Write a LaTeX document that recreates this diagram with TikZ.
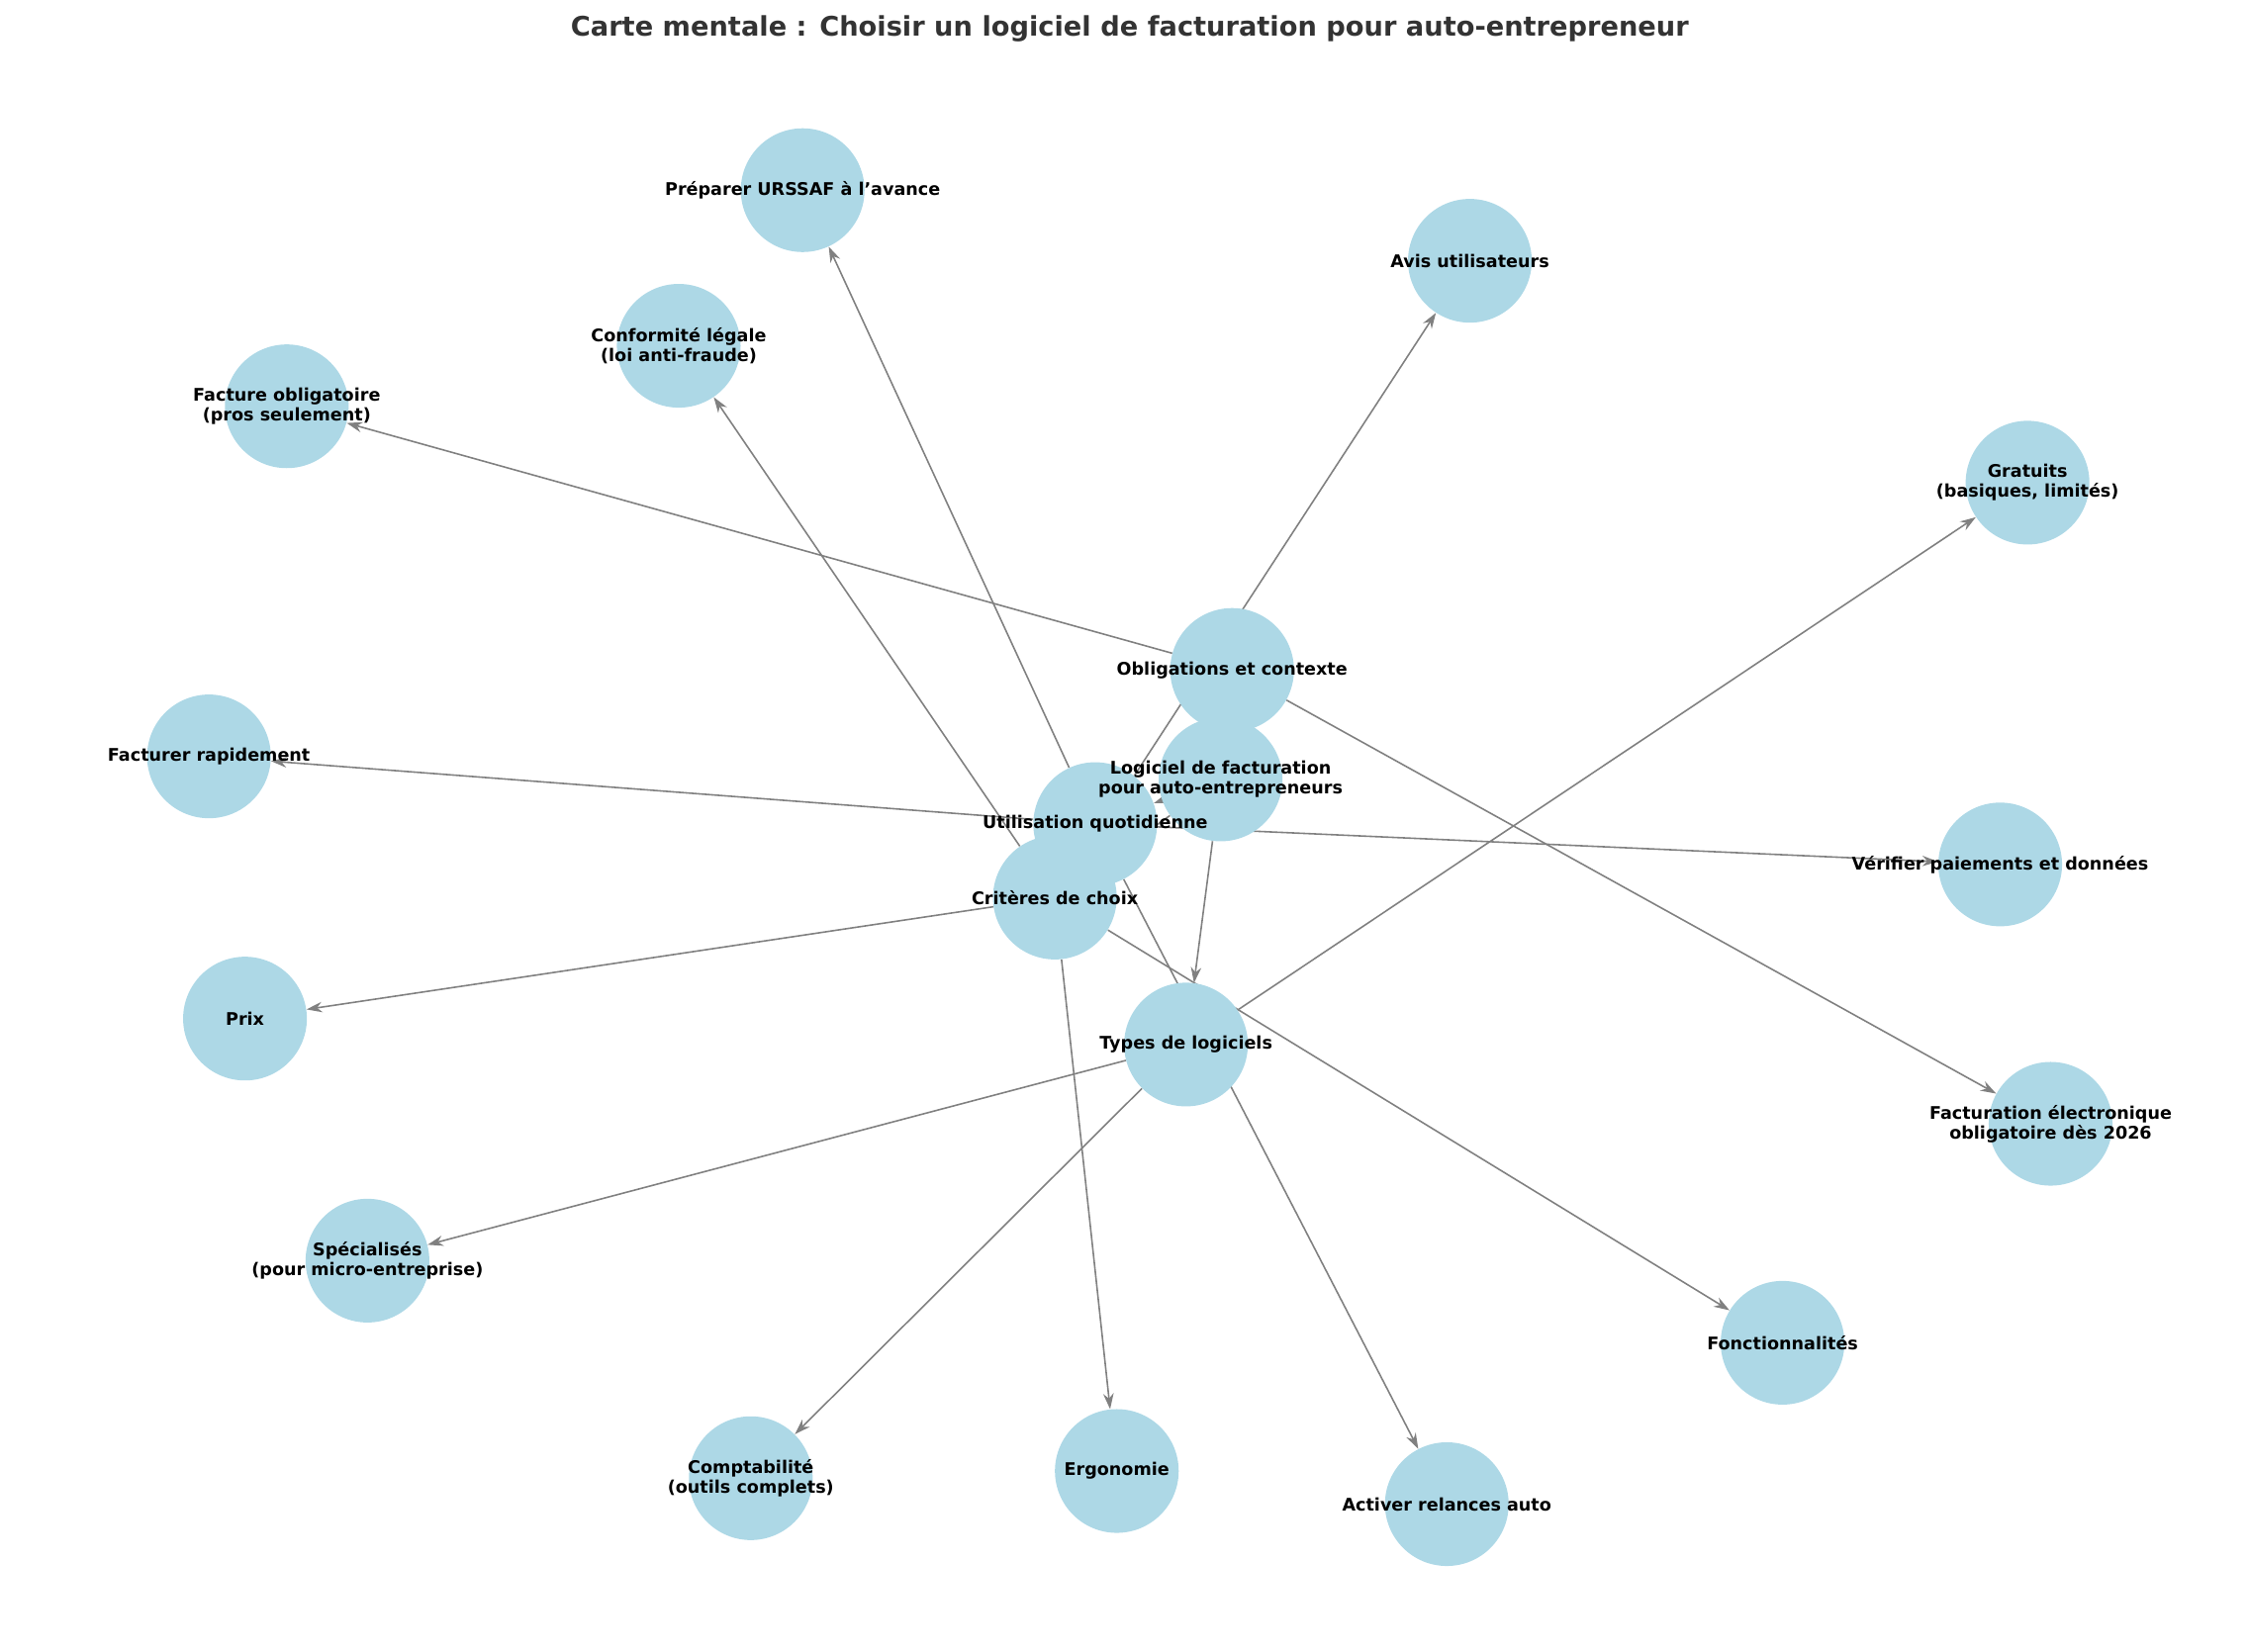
\documentclass[tikz,border=0pt]{standalone}
\usepackage{fontspec}
\setmainfont{DejaVu Sans}
\usetikzlibrary{arrows.meta}
\pgfdeclarelayer{background}
\pgfdeclarelayer{foreground}
\pgfsetlayers{background,main,foreground}
\definecolor{nodeblue}{HTML}{ADD8E6}
\definecolor{titlegray}{HTML}{333333}

\begin{document}
\begin{tikzpicture}[x=0.02912cm, y=-0.02912cm,
  bubble/.style={circle, fill=nodeblue, minimum size=2.5cm, inner sep=0pt},
  lbl/.style={font=\bfseries\fontsize{10}{11.5}\selectfont, align=center},
  link/.style={draw=gray, line width=0.9pt, -{Stealth[length=9pt, width=6pt]}}]
  \useasboundingbox (0,0) rectangle (1560,1146);
  \node[font=\bfseries\fontsize{15.5}{18}\selectfont, text=titlegray] (title) at (784,20)
    {Carte mentale : Choisir un logiciel de facturation pour auto-entrepreneur};

  % circles
  \foreach \id/\x/\y in {root/847/541, oblig/855/465, usage/760/572, crit/732/623,
      types/823/725, urssaf/557/132, avis/1020/181, conf/471/240, factob/199/282,
      gratuits/1407/335, rapide/145/525, verif/1388/600, prix/170/707,
      efact/1423/780, spec/255/875, fonct/1237/932, compta/521/1026,
      ergo/775/1021, relance/1004/1044}
    \node[bubble] (\id) at (\x,\y) {};

  % labels
  \begin{pgfonlayer}{foreground}
  \node[lbl] (t-root) at (root) {Logiciel de facturation\\pour auto-entrepreneurs};
  \node[lbl] (t-oblig) at (oblig) {Obligations et contexte};
  \node[lbl] (t-usage) at (usage) {Utilisation quotidienne};
  \node[lbl] (t-crit) at (crit) {Critères de choix};
  \node[lbl] (t-types) at (types) {Types de logiciels};
  \node[lbl] (t-urssaf) at (urssaf) {Préparer URSSAF à l'avance};
  \node[lbl] (t-avis) at (avis) {Avis utilisateurs};
  \node[lbl] (t-conf) at (conf) {Conformité légale\\(loi anti-fraude)};
  \node[lbl] (t-factob) at (factob) {Facture obligatoire\\(pros seulement)};
  \node[lbl] (t-gratuits) at (gratuits) {Gratuits\\(basiques, limités)};
  \node[lbl] (t-rapide) at (rapide) {Facturer rapidement};
  \node[lbl] (t-verif) at (verif) {Vérifier paiements et données};
  \node[lbl] (t-prix) at (prix) {Prix};
  \node[lbl] (t-efact) at (efact) {Facturation électronique\\obligatoire dès 2026};
  \node[lbl] (t-spec) at (spec) {Spécialisés\\(pour micro-entreprise)};
  \node[lbl] (t-fonct) at (fonct) {Fonctionnalités};
  \node[lbl] (t-compta) at (compta) {Comptabilité\\(outils complets)};
  \node[lbl] (t-ergo) at (ergo) {Ergonomie};
  \node[lbl] (t-relance) at (relance) {Activer relances auto};
  \end{pgfonlayer}

  % edges
  \begin{pgfonlayer}{background}
  \foreach \a/\b in {root/oblig, root/usage, root/crit, root/types,
      oblig/factob, oblig/efact, usage/rapide, usage/verif, usage/urssaf,
      usage/relance, crit/prix, crit/fonct, crit/ergo, crit/avis, crit/conf,
      types/gratuits, types/spec, types/compta}
    \draw[link] (\a) -- (\b);
  \end{pgfonlayer}
\end{tikzpicture}
\end{document}
